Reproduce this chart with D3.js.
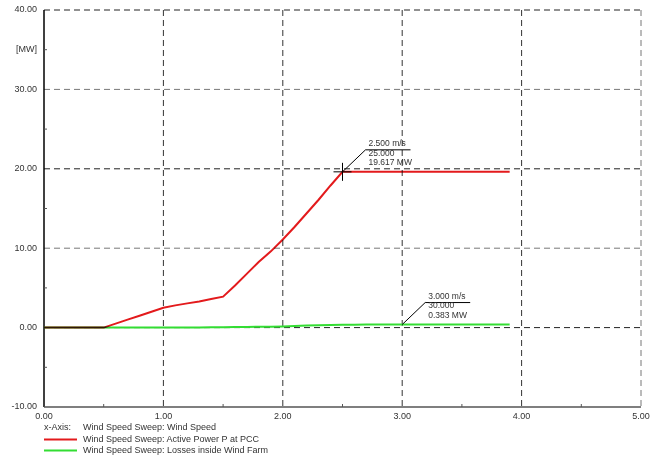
<!DOCTYPE html>
<html>
<head>
<meta charset="utf-8">
<script src="https://cdn.jsdelivr.net/npm/d3@7"></script>
<style>
  body { margin: 0; background: #fff; }
  text { font-family: "Liberation Sans", Arial, sans-serif; }
</style>
</head>
<body>
<div id="chart"></div>
<script>
// wind speed sweep, 0.1 m/s steps
const windSpeed = d3.range(0, 40).map(i => +(i / 10).toFixed(1));
const activePower = [
  0, 0, 0, 0, 0, 0, 0.5, 1.0, 1.5, 2.0,
  2.5, 2.8, 3.05, 3.3, 3.6, 3.9, 5.3, 6.8, 8.3, 9.6,
  11.1, 12.7, 14.4, 16.1, 17.9, 19.617, 19.617, 19.617, 19.617, 19.617,
  19.617, 19.617, 19.617, 19.617, 19.617, 19.617, 19.617, 19.617, 19.617, 19.617
];
const losses = [
  0, 0, 0, 0, 0, 0, 0, 0, 0, 0,
  0, 0, 0, 0.02, 0.03, 0.05, 0.06, 0.08, 0.1, 0.12,
  0.15, 0.2, 0.25, 0.29, 0.33, 0.36, 0.37, 0.38, 0.383, 0.383,
  0.383, 0.383, 0.383, 0.383, 0.383, 0.383, 0.383, 0.383, 0.383, 0.383
];
const xTicks = [0, 1, 2, 3, 4, 5];
const yTicks = [-10, 0, 10, 20, 30, 40];
const legendItems = ["Wind Speed Sweep: Active Power P at PCC", "Wind Speed Sweep: Losses inside Wind Farm"];
const markers = [
  { idx: 25, series: "p", lines: ["2.500 m/s", "25.000", "19.617 MW"] },
  { idx: 30, series: "l", lines: ["3.000 m/s", "30.000", "0.383 MW"] }
];

const W = 656, H = 459;
const margin = { top: 10, right: 15, bottom: 52, left: 44 };
const width = W - margin.left - margin.right,
  height = H - margin.top - margin.bottom;

const fmt = d => d3.format(".2f")(d).replace("\u2212", "-");

const svg = d3.select("#chart").append("svg")
  .attr("width", W).attr("height", H);
const g = svg.append("g")
  .attr("transform", `translate(${margin.left},${margin.top})`);

const x = d3.scaleLinear().domain([0, 5]).range([0, width]);
const y = d3.scaleLinear().domain([-10, 40]).range([height, 0]);

// grid
g.selectAll(".hgrid").data(yTicks.filter(d => d > -10)).join("line")
  .attr("x1", 0).attr("x2", width)
  .attr("y1", d => y(d)).attr("y2", d => y(d))
  .attr("stroke", d => (d % 20 === 0) ? "#222" : "#777")
  .attr("stroke-width", 1)
  .attr("stroke-dasharray", "6,4");
g.selectAll(".vgrid").data(xTicks.filter(d => d > 0)).join("line")
  .attr("x1", d => x(d)).attr("x2", d => x(d))
  .attr("y1", 0).attr("y2", height)
  .attr("stroke", d => d === 5 ? "#777" : "#333")
  .attr("stroke-width", 1)
  .attr("stroke-dasharray", "6,4");

// axes
g.append("line").attr("x1", 0).attr("x2", 0).attr("y1", 0).attr("y2", height)
  .attr("stroke", "#000").attr("stroke-width", 1.5);
g.append("line").attr("x1", 0).attr("x2", width).attr("y1", height).attr("y2", height)
  .attr("stroke", "#555").attr("stroke-width", 1.5);

// minor ticks
g.selectAll(".ytick").data([-5, 5, 15, 25, 35]).join("line")
  .attr("x1", 0).attr("x2", 3).attr("y1", d => y(d)).attr("y2", d => y(d))
  .attr("stroke", "#555");
g.selectAll(".xtick").data([0.5, 1.5, 2.5, 3.5, 4.5]).join("line")
  .attr("x1", d => x(d)).attr("x2", d => x(d)).attr("y1", height).attr("y2", height - 3)
  .attr("stroke", "#555");

// tick labels
g.selectAll(".ylab").data(yTicks).join("text")
  .attr("x", -7).attr("y", d => y(d))
  .attr("text-anchor", "end").attr("dominant-baseline", "middle")
  .attr("font-size", 9).attr("fill", "#333")
  .text(fmt);
g.append("text").attr("x", -7).attr("y", y(35))
  .attr("text-anchor", "end").attr("dominant-baseline", "middle")
  .attr("font-size", 9).attr("fill", "#333").text("[MW]");
g.selectAll(".xlab").data(xTicks).join("text")
  .attr("x", d => x(d)).attr("y", height + 10)
  .attr("text-anchor", "middle").attr("dominant-baseline", "middle")
  .attr("font-size", 9).attr("fill", "#333")
  .text(fmt);

// curves
const line = d3.line().x((d, i) => x(windSpeed[i])).y(d => y(d));
g.append("path").datum(losses)
  .attr("fill", "none").attr("stroke", "#33dd33").attr("stroke-width", 2)
  .attr("d", line);
g.append("path").datum(activePower)
  .attr("fill", "none").attr("stroke", "#e31a1c").attr("stroke-width", 2)
  .style("mix-blend-mode", "multiply")
  .attr("d", line);

// cursor annotations
markers.forEach(m => {
  const vals = m.series === "p" ? activePower : losses;
  const px = x(windSpeed[m.idx]), py = y(vals[m.idx]);
  const ex = px + 23, ey = py - 22;
  const a = g.append("g");
  if (m.series === "p") {
    a.append("line").attr("x1", px - 9).attr("x2", px + 9).attr("y1", py).attr("y2", py).attr("stroke", "#000");
    a.append("line").attr("x1", px).attr("x2", px).attr("y1", py - 9).attr("y2", py + 9).attr("stroke", "#000");
  }
  a.append("polyline")
    .attr("points", `${px},${py} ${ex},${ey} ${ex + 45},${ey}`)
    .attr("fill", "none").attr("stroke", "#000").attr("stroke-width", 1);
  m.lines.forEach((t, i) => {
    a.append("text").attr("x", ex + 3).attr("y", ey - 6 + i * 9.6)
      .attr("dominant-baseline", "middle")
      .attr("font-size", 8.5).attr("fill", "#333").text(t);
  });
});

// legend
const leg = svg.append("g").attr("transform", `translate(${margin.left},0)`);
leg.append("text").attr("x", 0).attr("y", 428).attr("dominant-baseline", "middle")
  .attr("font-size", 9).attr("fill", "#333").text("x-Axis:");
leg.append("text").attr("x", 39).attr("y", 428).attr("dominant-baseline", "middle")
  .attr("font-size", 9).attr("fill", "#333").text("Wind Speed Sweep: Wind Speed");
const legColors = ["#e31a1c", "#33dd33"];
legendItems.forEach((t, i) => {
  const ly = 439.5 + i * 11;
  leg.append("line").attr("x1", 0).attr("x2", 33).attr("y1", ly).attr("y2", ly)
    .attr("stroke", legColors[i]).attr("stroke-width", 2);
  leg.append("text").attr("x", 39).attr("y", ly).attr("dominant-baseline", "middle")
    .attr("font-size", 9).attr("fill", "#333").text(t);
});
</script>
</body>
</html>
